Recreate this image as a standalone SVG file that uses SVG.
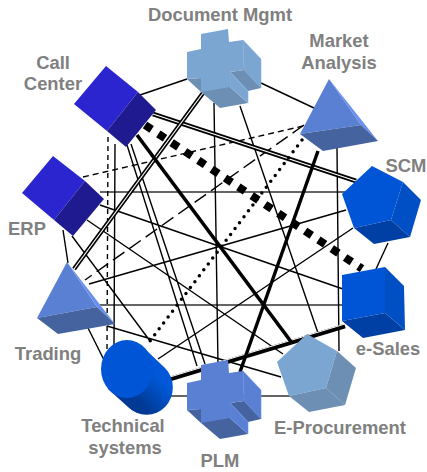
<svg xmlns="http://www.w3.org/2000/svg" width="427" height="472" viewBox="0 0 427 472">
<style>
.c{fill:none;stroke:#000;stroke-width:1.4}
.h{fill:none;stroke:#333;stroke-width:1.6}
.t{font-family:"Liberation Sans",Arial,sans-serif;font-weight:bold;font-size:18.4px;fill:#808080;text-anchor:middle}
.in{fill:#2b25cf}.id{fill:#1f1a8f}
.bf{fill:#0055d6}.bs{fill:#004fc4}.bd{fill:#0040a4}
.mf{fill:#5a80d4}.ml{fill:#6a90ee}.md{fill:#44639f}.mm{fill:#5a80d4;stroke:#6a90ee;stroke-width:.6}
.lf{fill:#7ba6d2}.lm{fill:#7ba6d2;stroke:#8ab4e0;stroke-width:.6}.ld{fill:#6d8fb3}
</style>
<defs>
<linearGradient id="cyl" x1="0" y1="1" x2="1" y2="0">
<stop offset="0.3" stop-color="#003a94"/><stop offset="0.7" stop-color="#0058d8"/>
</linearGradient>
</defs>
<rect width="427" height="472" fill="#fff"/>
<g id="connectors">
<path class="h" d="M100 192H345M100 305H342M165 396H290"/>
<path class="c" d="M115 144L114 345M337 148L339 351M214 103L218 365"/>
<path class="c" d="M140 95L187 79M261 83L314 108M388 243L376 269M63 230L68 263M88 328L104 360"/>
<path class="c" d="M127 145L197 366M131 144L205 364M240 106L318 333M346 210L89 284M353 228L158 359M100 205L343 289M87 220L283 354M107 326L281 377M72 236L150 341"/>
<path class="c" stroke-dasharray="5 4" d="M108 137L107 350"/>
<path class="c" stroke-dasharray="6 4" d="M83 177L303 126"/>
<path class="c" stroke-dasharray="14 6" d="M304 125L85 280"/>
<path fill="none" stroke="#000" stroke-width="4.8" d="M153 114L356 181"/>
<path fill="none" stroke="#fff" stroke-width="1.3" d="M153 114L356 181"/>
<path fill="none" stroke="#000" stroke-width="4.4" d="M203 93L74 269"/>
<path fill="none" stroke="#fff" stroke-width="1.2" d="M203 93L74 269"/>
<path fill="none" stroke="#000" stroke-width="4.6" d="M170 379L345 326"/>
<path fill="none" stroke="#fff" stroke-width="1" d="M170 377L345 324"/>
<path fill="none" stroke="#000" stroke-width="3.6" d="M137 135L292 343"/>
<path fill="none" stroke="#000" stroke-width="3.4" d="M318 151L240 372"/>
<path fill="none" stroke="#000" stroke-width="8" stroke-dasharray="8 8" d="M145 125L362 268.7"/>
<path fill="none" stroke="#000" stroke-width="3.5" stroke-linecap="round" stroke-dasharray="0 7.4" d="M302 140L150 341"/>
</g>
<g id="call-center">
<path class="in" d="M106 66L74 104L107 131L138 92Z"/><path class="id" d="M138 92L156 110L126 147L107 131Z"/>
<text class="t" x="53" y="69">Call</text><text class="t" x="53" y="90">Center</text>
</g>
<g id="erp">
<path class="in" d="M53 156L22 193L54 220L85 181Z"/><path class="id" d="M85 181L104 199L73 236L54 220Z"/>
<text class="t" x="27" y="235">ERP</text>
</g>
<g id="document-mgmt">
<path class="ld" d="M187 79L201 78L230 87L248 103L220 108L201 92Z"/>
<path class="lm" d="M243 40L261 59L261 88L244 70Z"/><path class="ld" d="M230 72L244 70L261 88L248 91Z"/><path class="lm" d="M230 72L248 91L248 103L230 87Z"/>
<path class="lf" d="M187 52L201 49L201 34L228 29L229 42L243 40L244 70L230 72L230 87L201 92L201 78L187 79Z"/>
<text class="t" x="220" y="21">Document Mgmt</text>
</g>
<g id="market-analysis">
<path class="mf" d="M329 79L300 134L361 125Z"/><path class="ml" d="M329 79L361 125L378 141Z"/><path class="md" d="M300 134L361 125L378 141L323 151Z"/>
<text class="t" x="339" y="47">Market</text><text class="t" x="339" y="69">Analysis</text>
</g>
<g id="scm">
<path class="bf" d="M372 166L403 182L391 220L354 228L342 194Z"/><path class="bs" d="M403 182L421 200L410 237L391 220Z"/><path class="bd" d="M354 228L391 220L410 237L374 244Z"/>
<text class="t" x="406" y="172">SCM</text>
</g>
<g id="e-sales">
<path class="bf" d="M342 275L385 267L385 313L342 321Z"/><path class="bs" d="M385 267L404 286L405 330L385 313Z"/><path class="bd" d="M342 321L385 313L405 330L363 338Z"/>
<text class="t" x="388" y="355">e-Sales</text>
</g>
<g id="e-procurement">
<path class="lf" d="M307 334L337 351L326 388L289 396L277 362Z"/><path class="ld" d="M337 351L356 368L345 405L326 388Z"/><path class="ld" d="M289 396L326 388L345 405L309 412Z"/>
<text class="t" x="340" y="434">E-Procurement</text>
</g>
<g id="plm">
<path class="md" d="M187 410L201 409L230 418L248 434L220 439L201 423Z"/>
<path class="mm" d="M243 371L261 390L261 419L244 401Z"/><path class="md" d="M230 403L244 401L261 419L248 422Z"/><path class="mm" d="M230 403L248 422L248 434L230 418Z"/>
<path class="mf" d="M187 383L201 380L201 365L228 360L229 373L243 371L244 401L230 403L230 418L201 423L201 409L187 410Z"/>
<text class="t" x="220" y="467">PLM</text>
</g>
<g id="technical-systems">
<path fill="url(#cyl)" d="M145 349L165 368A26 27 0 0 1 128 407L108 389Z"/>
<ellipse cx="146" cy="387" rx="26" ry="27" fill="url(#cyl)"/>
<ellipse cx="127" cy="369" rx="26" ry="29" class="bf"/>
<text class="t" x="123" y="432">Technical</text><text class="t" x="125" y="454">systems</text>
</g>
<g id="trading">
<path class="mf" d="M67 262L37 318L97 307Z"/><path class="ml" d="M67 262L97 307L115 324Z"/><path class="md" d="M37 318L97 307L115 324L58 334Z"/>
<text class="t" x="48" y="360">Trading</text>
</g>
</svg>
